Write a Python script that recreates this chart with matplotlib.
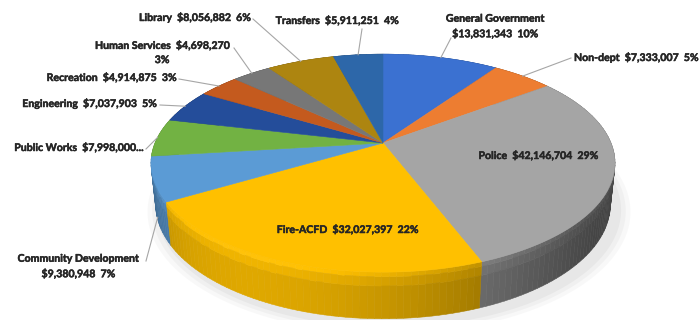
import numpy as np
import matplotlib.pyplot as plt
import matplotlib.patheffects as pe
from matplotlib.collections import PolyCollection
from matplotlib import colors as mcolors

# --- Budget data (clockwise from 12 o'clock) ---
departments = ["General Government", "Non-dept", "Police", "Fire-ACFD",
               "Community Development", "Public Works", "Engineering",
               "Recreation", "Human Services", "Library", "Transfers"]
budget = [13831343, 7333007, 42146704, 32027397, 9380948, 7998000,
          7037903, 4914875, 4698270, 8056882, 5911251]
slice_colors = ["#3b71d1", "#ed7d31", "#a5a5a5", "#ffc000", "#5b9bd5",
                "#72b243", "#244d9a", "#c45a1e", "#777777", "#ad8510",
                "#2d67a9"]

# --- 3D view parameters (pixels) ---
ELEV = np.radians(27.5)
DIST = 4.8
SCALE = 228
CX, CY = 383, 143
THICK = 0.205


def project(theta, r=1.0, z=0.0):
    s, c = np.sin(ELEV), np.cos(ELEV)
    px, py = r * np.sin(theta), r * np.cos(theta)
    depth = DIST + py * c - z * s
    xs = px * DIST / depth
    ys = (py * s + z * c) * DIST / depth
    return CX + SCALE * xs, CY - SCALE * ys


def shade(color, f):
    rgb = np.array(mcolors.to_rgb(color))
    if f > 1:
        return tuple(np.clip(rgb + (1 - rgb) * (f - 1), 0, 1))
    return tuple(rgb * f)


total = sum(budget)
fracs = np.array(budget) / total
bounds = np.concatenate([[0], np.cumsum(fracs)]) * 2 * np.pi
pcts = [int(round(v / total * 100)) for v in budget]

fig = plt.figure(figsize=(6.99, 3.20), dpi=100)
ax = fig.add_axes([0, 0, 1, 1])
ax.set_xlim(0, 699)
ax.set_ylim(320, 0)
ax.axis("off")

# soft shadow under the disc
tt = np.linspace(0, 2 * np.pi, 200)
for k, a in zip([1.06, 1.04, 1.02], [0.05, 0.06, 0.08]):
    sx, sy = project(tt, r=k, z=-THICK)
    ax.fill(sx + 6, sy + 5, color="#808080", alpha=a, lw=0, zorder=0)

# --- Outer walls ---
light = np.array([-0.5, -0.85])
wall_polys, wall_cols, wall_depth = [], [], []
zbands = [(0.0, -0.02, 1.10), (-0.02, -0.06, 1.0), (-0.06, -THICK, 0.93)]
for i in range(len(budget)):
    a0, a1 = bounds[i], bounds[i + 1]
    n = max(3, int((a1 - a0) / np.radians(1.5)))
    ts = np.linspace(a0, a1, n + 1)
    for t0, t1 in zip(ts[:-1], ts[1:]):
        tm = 0.5 * (t0 + t1)
        nrm = np.array([np.sin(tm), np.cos(tm)])
        f = 0.45 + 0.5 * max(0.0, nrm @ light) ** 1.5
        for z0, z1, zf in zbands:
            x00, y00 = project(t0, z=z0)
            x10, y10 = project(t1, z=z0)
            x11, y11 = project(t1, z=z1)
            x01, y01 = project(t0, z=z1)
            wall_polys.append([(x00, y00), (x10, y10), (x11, y11), (x01, y01)])
            wall_cols.append(shade(slice_colors[i], f * zf))
            wall_depth.append(np.cos(tm))
order = np.argsort(wall_depth)[::-1]
walls = PolyCollection([wall_polys[j] for j in order],
                       facecolors=[wall_cols[j] for j in order],
                       edgecolors=[wall_cols[j] for j in order],
                       linewidths=0.4, zorder=1)
ax.add_collection(walls)

# --- Top faces ---
for i in range(len(budget)):
    ts = np.linspace(bounds[i], bounds[i + 1], 80)
    rx, ry = project(ts)
    xs = np.concatenate([[CX], rx])
    ys = np.concatenate([[CY], ry])
    ax.fill(xs, ys, color=slice_colors[i], lw=0.4, ec=slice_colors[i], zorder=2)

# --- Labels ---
labels = [f"{d}  ${v:,}  {p}%" for d, v, p in zip(departments, budget, pcts)]
labels[0] = f"General Government\n${budget[0]:,}  {pcts[0]}%"
labels[4] = f"Community Development\n${budget[4]:,}  {pcts[4]}%"
labels[5] = f"Public Works  ${budget[5]:,}..."
labels[8] = f"Human Services  ${budget[8]:,}\n{pcts[8]}%"

# text anchor (x, y, ha), leader start, leader end height on the disc
label_pos = [(495, 26, "center"), (574, 57, "left"), (538, 155, "center"),
             (347, 229, "center"), (78, 266, "center"), (143, 147, "right"),
             (156, 103, "right"), (176, 77, "right"), (162, 52, "center"),
             (250, 17, "right"), (398, 20, "right")]
leader_start = [(451, 38), (571, 58), None, None, (146, 261), (146, 149),
                (160, 105), (179, 79), (234, 48), (253, 19), (362, 29)]
leader_z = [0, 0, 0, 0, -THICK * 0.9, 0, 0, 0, 0, 0, 0]

for i, lab in enumerate(labels):
    x, y, ha = label_pos[i]
    ax.text(x, y, lab, ha=ha, va="center", fontsize=7.6, fontweight="bold",
            family=["Lato", "DejaVu Sans"], color="#262626", linespacing=1.35,
            zorder=5,
            path_effects=[pe.withStroke(linewidth=0.35, foreground="#262626")])
    if leader_start[i] is None:
        continue
    tm = 0.5 * (bounds[i] + bounds[i + 1])
    ex, ey = project(tm, z=leader_z[i])
    sx, sy = leader_start[i]
    ax.plot([sx, ex], [sy, ey], color="#a6a6a6", lw=0.8, zorder=4)

fig.savefig("out.png", dpi=100)
